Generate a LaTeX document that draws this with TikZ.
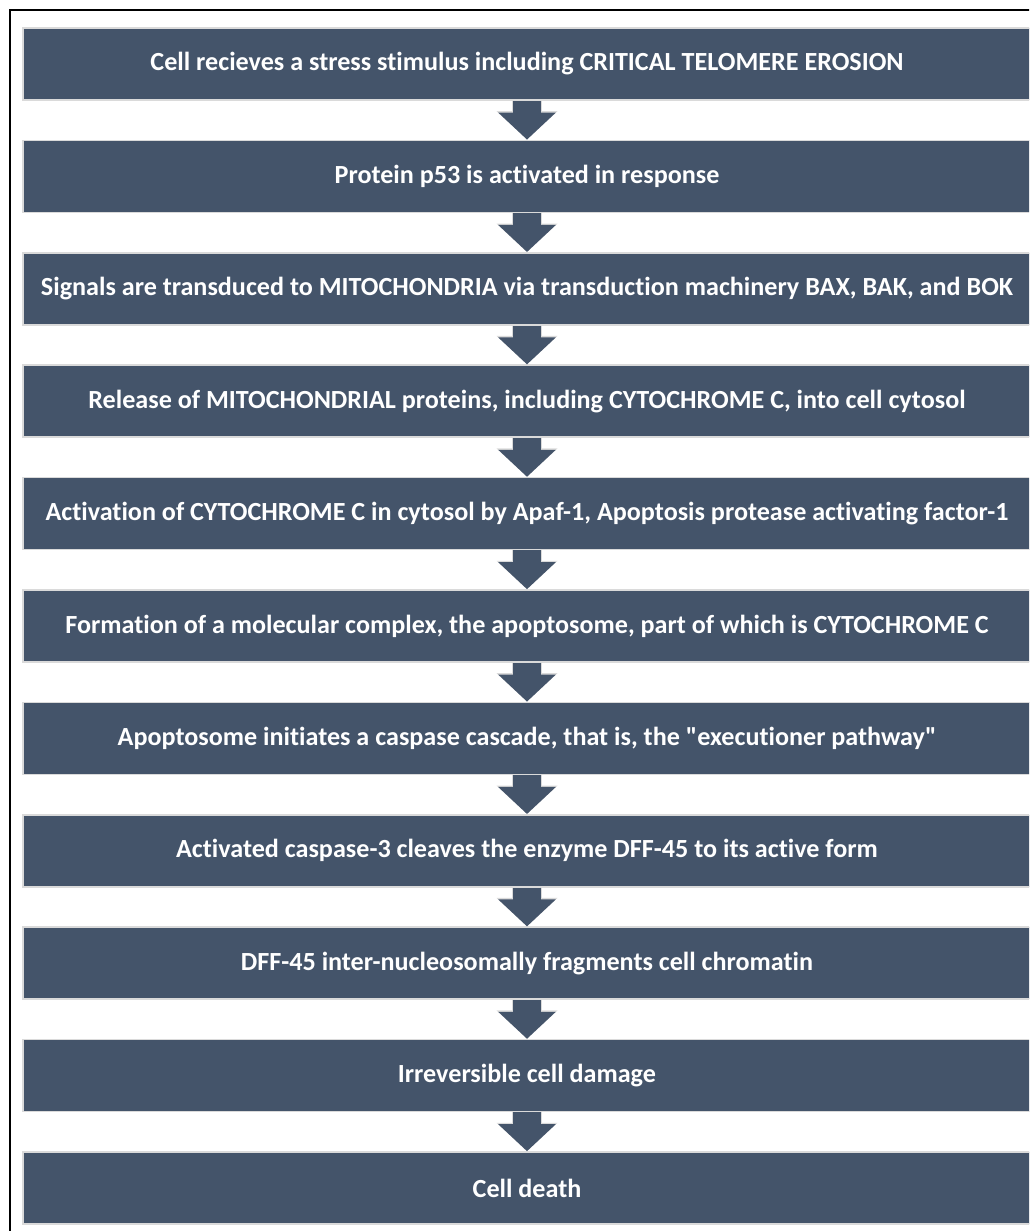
\documentclass[tikz,border=0pt]{standalone}
\usepackage{fontspec}
\setmainfont{Carlito}[Ligatures={TeXOff,CommonOff}]
\usetikzlibrary{arrows.meta}
\definecolor{slate}{HTML}{44546A}
\definecolor{rim}{HTML}{DADADA}

\begin{document}
\begin{tikzpicture}[
    x=0.75pt,
    y=0.75pt,
    stepbox/.style={
        fill=slate,
        draw=rim,
        line width=1.2pt,
        minimum width=756pt,
        minimum height=54pt,
        inner sep=0pt,
        text=white,
        font=\fontsize{19.6}{22}\selectfont\bfseries
    },
    flow/.style={
        slate,
        line width=21pt,
        -{Triangle[width=42pt,length=20.25pt]},
        preaction={
            draw=rim,
            line width=22.5pt,
            -{Triangle[width=44.5pt,length=21.3pt]}
        }
    }
    ]
    \useasboundingbox (0,0) rectangle (1029,1231);
    \clip (0,0) rectangle (1029,1231);
    \draw[line width=0.9pt] (10,-20) -- (10,1221) -- (1060,1221);

    \node[stepbox] (STEP1)  at (527,1167)   {Cell recieves a stress stimulus including CRITICAL TELOMERE EROSION};
    \node[stepbox] (STEP2)  at (527,1054.6) {Protein p53 is activated in response};
    \node[stepbox] (STEP3)  at (527,942.2)  {Signals are transduced to MITOCHONDRIA via transduction machinery BAX, BAK, and BOK};
    \node[stepbox] (STEP4)  at (527,829.8)  {Release of MITOCHONDRIAL proteins, including CYTOCHROME C, into cell cytosol};
    \node[stepbox] (STEP5)  at (527,717.4)  {Activation of CYTOCHROME C in cytosol by Apaf-1, Apoptosis protease activating factor-1};
    \node[stepbox] (STEP6)  at (527,605)    {Formation of a molecular complex, the apoptosome, part of which is CYTOCHROME C};
    \node[stepbox] (STEP7)  at (527,492.6)  {Apoptosome initiates a caspase cascade, that is, the "executioner pathway"};
    \node[stepbox] (STEP8)  at (527,380.2)  {Activated caspase-3 cleaves the enzyme DFF-45 to its active form};
    \node[stepbox] (STEP9)  at (527,267.8)  {DFF-45 inter-nucleosomally fragments cell chromatin};
    \node[stepbox] (STEP10) at (527,155.4)  {Irreversible cell damage};
    \node[stepbox] (STEP11) at (527,43)     {Cell death};

    \draw[flow] (STEP1.south)  -- (STEP2.north);
    \draw[flow] (STEP2.south)  -- (STEP3.north);
    \draw[flow] (STEP3.south)  -- (STEP4.north);
    \draw[flow] (STEP4.south)  -- (STEP5.north);
    \draw[flow] (STEP5.south)  -- (STEP6.north);
    \draw[flow] (STEP6.south)  -- (STEP7.north);
    \draw[flow] (STEP7.south)  -- (STEP8.north);
    \draw[flow] (STEP8.south)  -- (STEP9.north);
    \draw[flow] (STEP9.south)  -- (STEP10.north);
    \draw[flow] (STEP10.south) -- (STEP11.north);
\end{tikzpicture}
\end{document}
